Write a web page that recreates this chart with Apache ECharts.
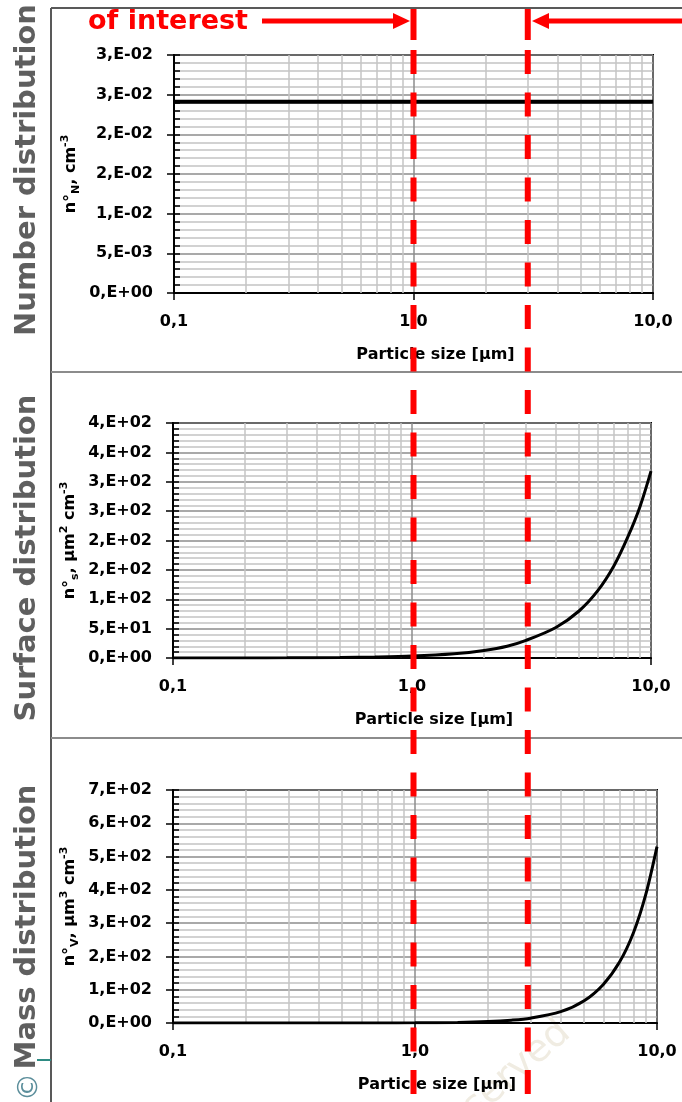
<!DOCTYPE html>
<html><head><meta charset="utf-8">
<script src="https://cdn.jsdelivr.net/npm/echarts@6/dist/echarts.min.js"></script>
<style>html,body{margin:0;padding:0;background:#fff;}#c{width:682px;height:1102px;}</style>
</head><body><div id="c"></div>
<script>
// ---- data ----
const sizes = [0.1, 0.2, 0.3, 0.5, 0.7, 1, 1.5, 2, 2.5, 3, 4, 5, 6, 7, 8, 9, 10];
const numberDist = [0.0241, 0.0241, 0.0241, 0.0241, 0.0241, 0.0241, 0.0241, 0.0241, 0.0241, 0.0241, 0.0241, 0.0241, 0.0241, 0.0241, 0.0241, 0.0241, 0.0241];
const surfaceDist = [0.03, 0.13, 0.29, 0.8, 1.6, 3.2, 7.2, 12.8, 20, 30, 52, 80, 115, 157, 206, 258, 318];
const massDist = [0.0005, 0.004, 0.014, 0.067, 0.18, 0.53, 1.8, 4.3, 8.4, 14.4, 34, 67, 116, 183, 272, 388, 530];
const xMinorGrid = [0.2, 0.3, 0.4, 0.5, 0.6, 0.7, 0.8, 0.9, 2, 3, 4, 5, 6, 7, 8, 9];
const yMax = [0.03, 400, 700];
const yInterval = [0.005, 50, 100];
const panelTitles = ['Number distribution', 'Surface distribution', 'Mass distribution'];
const yNames = [
  '{a|n°}{sub|N}{a|, cm}{sup|-3}',
  '{a|n°}{sub|s}{a|, µm}{sup|2}{a| cm}{sup|-3}',
  '{a|n°}{sub|V}{a|, µm}{sup|3}{a| cm}{sup|-3}'
];
const xName = 'Particle size [µm]';
const regionBounds = [1, 3];
const regionText = 'of interest';

// ---- layout ----
const grids = [
  {left: 174, right: 29, top: 55, height: 238},
  {left: 173, right: 31, top: 423, height: 235},
  {left: 173, right: 25, top: 790, height: 233}
];
const FONT = 'DejaVu Sans';

function sci(v) {
  if (Math.abs(v) < 1e-12) return '0,E+00';
  let e = Math.floor(Math.log10(Math.abs(v)) + 1e-9);
  let m = Math.round(v / Math.pow(10, e) + 1e-9);
  if (m >= 10) { m = 1; e++; }
  return m + ',E' + (e < 0 ? '-' : '+') + String(Math.abs(e)).padStart(2, '0');
}

const seriesData = [numberDist, surfaceDist, massDist];
const xAxes = [], yAxes = [], series = [];
grids.forEach((g, i) => {
  g.show = true; g.borderColor = '#000'; g.borderWidth = 2; g.backgroundColor = 'transparent';
  xAxes.push({
    type: 'log', logBase: 10, gridIndex: i, min: 0.1, max: 10,
    axisLine: {show: true, lineStyle: {color: '#000', width: 2}},
    axisTick: {show: true, length: 7, lineStyle: {color: '#000', width: 1.5}},
    axisLabel: {formatter: v => Number(v).toFixed(1).replace('.', ','), fontFamily: FONT, fontWeight: 'bold', fontSize: 16, color: '#000', margin: 21},
    splitLine: {show: true, lineStyle: {color: '#8c8c8c', width: 1.5}},
    name: xName, nameLocation: 'middle', nameGap: 54, nameMoveOverlap: false,
    nameTextStyle: {fontFamily: FONT, fontWeight: 'bold', fontSize: 16, color: '#000', padding: [0, 0, 0, 44]}
  });
  yAxes.push({
    type: 'value', gridIndex: i, min: 0, max: yMax[i], interval: yInterval[i], position: 'left',
    axisLine: {show: true, lineStyle: {color: '#000', width: 2}},
    axisTick: {show: true, length: 7, lineStyle: {color: '#000', width: 1.5}},
    minorTick: {show: false, splitNumber: 5},
    minorSplitLine: {show: true, lineStyle: {color: '#c4c4c4', width: 1.5}},
    splitLine: {show: true, lineStyle: {color: '#8c8c8c', width: 1.5}},
    axisLabel: {formatter: sci, fontFamily: FONT, fontWeight: 'bold', fontSize: 16, color: '#000', margin: 21},
    name: yNames[i], nameLocation: 'middle', nameRotate: 90, nameGap: 92, nameMoveOverlap: false,
    nameTextStyle: {
      color: '#000',
      rich: {
        a: {fontFamily: FONT, fontWeight: 'bold', fontSize: 16, color: '#000', lineHeight: 22},
        sub: {fontFamily: FONT, fontWeight: 'bold', fontSize: 11, color: '#000', verticalAlign: 'bottom', lineHeight: 22},
        sup: {fontFamily: FONT, fontWeight: 'bold', fontSize: 11, color: '#000', verticalAlign: 'top', lineHeight: 22}
      }
    }
  });
  yAxes.push({
    type: 'value', gridIndex: i, min: 0, max: yMax[i], interval: yInterval[i], position: 'left', offset: 0,
    axisLine: {show: false}, axisLabel: {show: false}, splitLine: {show: false},
    axisTick: {show: true, inside: true, length: 6, lineStyle: {color: '#000', width: 1.5}},
    minorTick: {show: true, splitNumber: 5, length: 6, lineStyle: {color: '#000', width: 1.5}}
  });
  const pts = sizes.map((s, k) => [s, seriesData[i][k]]);
  series.push({
    type: 'line', xAxisIndex: i, yAxisIndex: 2 * i, data: pts, z: 1, silent: true,
    symbol: 'none', lineStyle: {opacity: 0}, animation: false,
    markLine: {silent: true, symbol: 'none', animation: false, label: {show: false},
      lineStyle: {color: '#c4c4c4', width: 1.5, type: 'solid'},
      data: xMinorGrid.map(v => ({xAxis: v}))}
  });
  series.push({
    type: 'line', xAxisIndex: i, yAxisIndex: 2 * i, data: pts, z: 5,
    symbol: 'none', smooth: 0.3, animation: false,
    lineStyle: {color: '#000', width: i === 0 ? 4 : 3}
  });
});

const chart = echarts.init(document.getElementById('c'), null, {renderer: 'canvas'});
chart.setOption({animation: false, grid: grids, xAxis: xAxes, yAxis: yAxes, series: series});

const xa = chart.convertToPixel({xAxisIndex: 0}, regionBounds[0]);
const xb = chart.convertToPixel({xAxisIndex: 0}, regionBounds[1]);
const RED = '#ff0000';
const graphic = [
  {type: 'line', shape: {x1: 51, y1: 8, x2: 51, y2: 1102}, style: {stroke: '#595959', lineWidth: 2}},
  {type: 'line', shape: {x1: 51, y1: 8, x2: 682, y2: 8}, style: {stroke: '#595959', lineWidth: 2}},
  {type: 'line', shape: {x1: 51, y1: 372, x2: 682, y2: 372}, style: {stroke: '#8c8c8c', lineWidth: 2}},
  {type: 'line', shape: {x1: 51, y1: 738, x2: 682, y2: 738}, style: {stroke: '#8c8c8c', lineWidth: 2}},
  {type: 'line', shape: {x1: 37, y1: 1060, x2: 51, y2: 1060}, style: {stroke: '#2e8b83', lineWidth: 2}},
  {type: 'text', x: 30, y: 1087, rotation: Math.PI / 2, style: {text: '©', fontSize: 28, fontFamily: FONT, fill: '#5b8e9b', align: 'center', verticalAlign: 'middle'}},
  {type: 'text', x: 517, y: 1070, rotation: 41 * Math.PI / 180, z: 0, style: {text: 'served', fontSize: 38, fontFamily: FONT, fill: '#f0ece2', align: 'center', verticalAlign: 'middle'}},
  // red annotation
  {type: 'text', x: 88, y: 22, z: 50, style: {text: regionText, fontSize: 27, fontWeight: 'bold', fontFamily: FONT, fill: RED, align: 'left', verticalAlign: 'middle'}},
  {type: 'line', z: 50, shape: {x1: 262, y1: 21, x2: 396, y2: 21}, style: {stroke: RED, lineWidth: 5}},
  {type: 'polygon', z: 50, shape: {points: [[393, 13], [410, 21], [393, 29]]}, style: {fill: RED}},
  {type: 'line', z: 50, shape: {x1: 682, y1: 21, x2: 546, y2: 21}, style: {stroke: RED, lineWidth: 5}},
  {type: 'polygon', z: 50, shape: {points: [[549, 13], [532, 21], [549, 29]]}, style: {fill: RED}},
  {type: 'line', z: 50, shape: {x1: xa, y1: 9, x2: xa, y2: 40}, style: {stroke: RED, lineWidth: 6}},
  {type: 'line', z: 50, shape: {x1: xb, y1: 9, x2: xb, y2: 40}, style: {stroke: RED, lineWidth: 6}},
  {type: 'line', z: 50, shape: {x1: xa, y1: 50, x2: xa, y2: 1102}, style: {stroke: RED, lineWidth: 6, lineDash: [24, 18.5]}},
  {type: 'line', z: 50, shape: {x1: xb, y1: 50, x2: xb, y2: 1102}, style: {stroke: RED, lineWidth: 6, lineDash: [24, 18.5]}}
];
const titleCenters = [170, 558, 927];
panelTitles.forEach((t, i) => {
  graphic.push({type: 'text', x: 27, y: titleCenters[i], rotation: Math.PI / 2, z: 10,
    style: {text: t, fontSize: 29, fontWeight: 'bold', fontFamily: FONT, fill: '#5f5f5f', align: 'center', verticalAlign: 'middle'}});
});
chart.setOption({graphic: graphic});
</script></body></html>
